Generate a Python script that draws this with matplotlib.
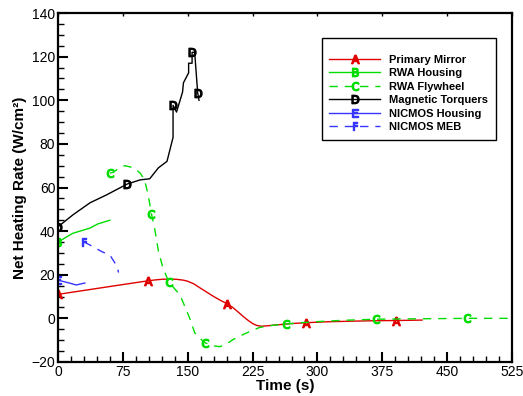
import matplotlib
matplotlib.use("Agg")
import matplotlib.pyplot as plt
from matplotlib.ticker import MultipleLocator

plt.rcParams["font.family"] = ["Liberation Sans", "DejaVu Sans"]

# ---------------------------------------------------------
# data
# ---------------------------------------------------------

pm_t = [0, 25, 50, 75, 104, 112, 120, 128, 137, 145, 150, 157, 164, 172,
        180, 188, 195, 202, 208, 214, 220, 225, 230, 235, 240, 253, 270,
        287, 310, 340, 365, 391, 421]
pm_v = [11, 12.5, 14, 15.5, 17.2, 17.6, 17.9, 18, 17.9, 17.5, 17, 15.8,
        14, 12, 10, 8.2, 6.8, 5, 3, 0.9, -1, -2.4, -3.3, -3.6, -3.5, -3,
        -2.4, -2, -1.6, -1.3, -1.1, -1, -0.8]
pm_mark = [0, 4, 16, 27, 31]

rh_t = [0, 17, 37, 46, 60]
rh_v = [35, 39, 41.4, 43.3, 45]
rh_mark = [0]

fw_t = [60, 64, 69, 77, 83, 90, 95, 100, 104, 108, 112, 116, 121, 128, 141,
        145, 153, 158, 165, 170, 178, 187, 195, 202, 212, 222, 233, 248, 264,
        285, 300, 330, 368, 420, 473, 525]
fw_v = [66.6, 67, 68.5, 70, 69.5, 68.3, 66.6, 63.5, 57, 48, 40.5, 31, 23.5,
        16.7, 10.7, 7, -0.7, -6.6, -9.5, -11.2, -12.5, -13, -11.8, -9.8,
        -7.8, -6, -4.2, -3.2, -2.6, -1.9, -1.5, -0.9, -0.4, -0.2, 0, 0]
fw_mark = [0, 9, 13, 19, 28, 32, 34]

mt_t = [0, 17, 37, 56, 80, 95, 106, 116, 126, 133, 133, 137, 144, 145, 151,
        151, 155, 155, 158, 161.5, 163]
mt_v = [42, 47.4, 53, 56.6, 61.6, 63.5, 64, 69, 72, 83, 97.7, 94.6, 103.8,
        108, 112.6, 117, 117, 122, 122, 103.3, 100]
mt_mark = [0, 4, 10, 17, 19]

nh_t = [0, 13, 21, 31]
nh_v = [17.5, 16.2, 15.3, 16.2]
nh_mark = [0]

nm_t = [30, 37, 51, 60, 68, 70]
nm_v = [35, 33.6, 30.5, 29, 24, 21]
nm_mark = [0]

# ---------------------------------------------------------
# plot
# ---------------------------------------------------------

RED = "#e00000"
GREEN = "#00dd00"
BLACK = "#000000"
BLUE = "#3535ff"

fig = plt.figure(figsize=(5.23, 3.96), dpi=100)
ax = fig.add_axes([0.111, 0.086, 0.868, 0.881])

series = [
    (pm_t, pm_v, pm_mark, RED, "-", "A", "Primary Mirror"),
    (rh_t, rh_v, rh_mark, GREEN, "-", "B", "RWA Housing"),
    (fw_t, fw_v, fw_mark, GREEN, "--", "C", "RWA Flywheel"),
    (mt_t, mt_v, mt_mark, BLACK, "-", "D", "Magnetic Torquers"),
    (nh_t, nh_v, nh_mark, BLUE, "-", "E", "NICMOS Housing"),
    (nm_t, nm_v, nm_mark, BLUE, "--", "F", "NICMOS MEB"),
]

for t, v, idx, color, ls, letter, label in series:
    line, = ax.plot(t, v, color=color, linestyle=ls, linewidth=1.0,
                    marker=r"$\mathsf{%s}$" % letter, markersize=6,
                    markevery=idx, label=label)
    if ls == "--":
        line.set_dashes((6, 5))

ax.set_xlim(0, 525)
ax.set_ylim(-20, 140)
ax.xaxis.set_major_locator(MultipleLocator(75))
ax.xaxis.set_minor_locator(MultipleLocator(15))
ax.yaxis.set_major_locator(MultipleLocator(20))
ax.yaxis.set_minor_locator(MultipleLocator(5))

ax.tick_params(which="major", direction="in", length=7, width=1.5,
               labelsize=10, top=True, right=False, pad=2)
ax.tick_params(which="minor", direction="in", length=4, width=1.0,
               top=False, right=False)
for tk in ax.xaxis.get_major_ticks():
    tk.tick2line.set_markersize(2)
    tk.tick2line.set_markeredgewidth(1)

for sp in ax.spines.values():
    sp.set_linewidth(1.6)

ax.set_xlabel("Time (s)", fontsize=11, fontweight="bold", labelpad=0)
ax.set_ylabel("Net Heating Rate (W/cm²)", fontsize=11, fontweight="bold",
              labelpad=3)

leg = ax.legend(loc="upper right", bbox_to_anchor=(0.965, 0.928),
                borderaxespad=0,
                prop={"size": 8, "weight": "bold"}, handlelength=4.6,
                handletextpad=0.8, labelspacing=0.32, borderpad=0.7,
                title=" ", title_fontsize=4,
                fancybox=False, framealpha=1, edgecolor="black")
leg.get_frame().set_linewidth(1.0)

fig.savefig("out.png", dpi=100)
